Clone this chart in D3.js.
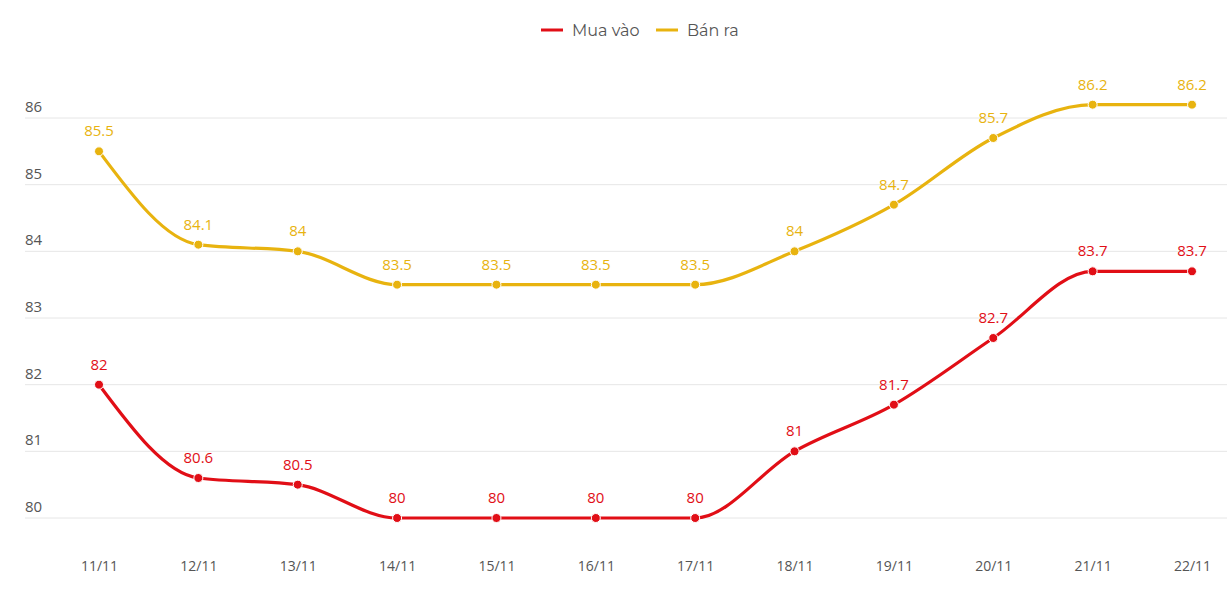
<!DOCTYPE html>
<html><head><meta charset="utf-8">
<script src="https://cdn.jsdelivr.net/npm/d3@7"></script>
<style>body{margin:0;background:#fff;}svg{display:block;}</style>
</head><body><svg id="c" width="1227" height="613"></svg>
<script>
const categories = ["11/11","12/11","13/11","14/11","15/11","16/11","17/11","18/11","19/11","20/11","21/11","22/11"];
const muaVao = [82,80.6,80.5,80,80,80,80,81,81.7,82.7,83.7,83.7];
const banRa = [85.5,84.1,84,83.5,83.5,83.5,83.5,84,84.7,85.7,86.2,86.2];
const yTicks = [80,81,82,83,84,85,86];
const seriesNames = ["Mua vào","Bán ra"];
const colors = ["#e10e16","#e8b30f"];

const svg = d3.select("#c");
const x = d3.scalePoint().domain(categories).range([99,1192]);
const y = d3.scaleLinear().domain([80,86]).range([518,118]);

// grid
const g = svg.append("g");
g.selectAll("line").data(yTicks).enter().append("line")
  .attr("x1",25).attr("x2",1227).attr("y1",d=>y(d)).attr("y2",d=>y(d))
  .attr("stroke","#e6e6e6").attr("stroke-width",1);
g.selectAll("text").data(yTicks).enter().append("text")
  .attr("x",25).attr("y",d=>y(d)-6).text(d=>d)
  .attr("font-family","Open Sans, sans-serif").attr("font-size",15).attr("fill","#555");

// x axis labels
const xa = svg.append("g").attr("transform","translate(0,561)")
  .call(d3.axisBottom(x).tickSize(0).tickPadding(0));
xa.select(".domain").remove();
xa.selectAll("text").attr("font-family","Open Sans, sans-serif").attr("font-size",14).attr("fill","#555");

const line = d3.line().x((d,i)=>x(categories[i])).y(d=>y(d)).curve(d3.curveMonotoneX);
[muaVao,banRa].forEach((s,k)=>{
  const sg = svg.append("g");
  sg.append("path").attr("d",line(s)).attr("fill","none").attr("stroke",colors[k]).attr("stroke-width",3.2);
  sg.selectAll("circle").data(s).enter().append("circle")
    .attr("cx",(d,i)=>x(categories[i])).attr("cy",d=>y(d)).attr("r",4.5)
    .attr("fill",colors[k]).attr("stroke","#fff").attr("stroke-width",1);
  sg.selectAll("text").data(s).enter().append("text")
    .attr("x",(d,i)=>x(categories[i])).attr("y",d=>y(d)-15)
    .attr("text-anchor","middle").text(d=>d)
    .attr("font-family","Open Sans, sans-serif").attr("font-size",15).attr("fill",colors[k]);
});

// legend
const lg = svg.append("g");
const legendX = [541,656];
seriesNames.forEach((n,k)=>{
  lg.append("line").attr("x1",legendX[k]).attr("x2",legendX[k]+22).attr("y1",30).attr("y2",30)
    .attr("stroke",colors[k]).attr("stroke-width",3);
  lg.append("text").attr("x",legendX[k]+31).attr("y",35.5).text(n)
    .attr("font-family","Montserrat, Lato, sans-serif").attr("font-size",16).attr("fill","#555");
});
</script></body></html>
